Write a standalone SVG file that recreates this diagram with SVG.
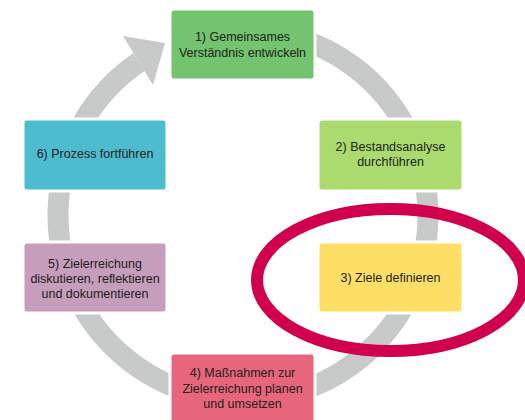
<svg xmlns="http://www.w3.org/2000/svg" width="525" height="420" viewBox="0 0 525 420">
<style>
.box{stroke:#ffffff;stroke-width:3}
.t{font-family:"Liberation Sans",Arial,sans-serif;font-size:12.5px;fill:#1d1d1b;text-anchor:middle}
</style>
<rect x="0" y="0" width="525" height="420" fill="#ffffff"/>
<g id="connectors">
<path d="M243 30 A185 185 0 1 1 139 62" fill="none" stroke="#c8cac9" stroke-width="21"/>
<polygon points="123,36 165,43 153,85" fill="#c8cac9"/>
</g>
<g id="node1">
<rect class="box" x="170" y="9" width="145" height="71" rx="4" fill="#73c36f"/>
<text class="t" x="242.5" y="41">1) Gemeinsames</text>
<text class="t" x="242.5" y="56.7">Verständnis entwickeln</text>
</g>
<g id="node2">
<rect class="box" x="318" y="119" width="145" height="72" rx="4" fill="#abdb6e"/>
<text class="t" x="390.5" y="150.5">2) Bestandsanalyse</text>
<text class="t" x="390.5" y="166">durchführen</text>
</g>
<g id="node3">
<rect class="box" x="318" y="242" width="145" height="71" rx="4" fill="#fddf65"/>
<text class="t" x="390.5" y="282">3) Ziele definieren</text>
</g>
<g id="node4">
<rect class="box" x="170" y="353" width="145" height="72" rx="4" fill="#e8667c"/>
<text class="t" x="242.5" y="377">4) Maßnahmen zur</text>
<text class="t" x="242.5" y="392.7">Zielerreichung planen</text>
<text class="t" x="242.5" y="408.3">und umsetzen</text>
</g>
<g id="node5">
<rect class="box" x="23" y="242" width="144" height="71" rx="4" fill="#c69dbb"/>
<text class="t" x="95" y="268.3">5) Zielerreichung</text>
<text class="t" x="95" y="283.3">diskutieren, reflektieren</text>
<text class="t" x="95" y="298">und dokumentieren</text>
</g>
<g id="node6">
<rect class="box" x="23" y="119" width="144" height="72" rx="4" fill="#4ebccf"/>
<text class="t" x="95" y="158">6) Prozess fortführen</text>
</g>
<g id="highlight">
<ellipse cx="390.5" cy="280" rx="133.5" ry="71" fill="none" stroke="#d0004f" stroke-width="12"/>
</g>
</svg>
